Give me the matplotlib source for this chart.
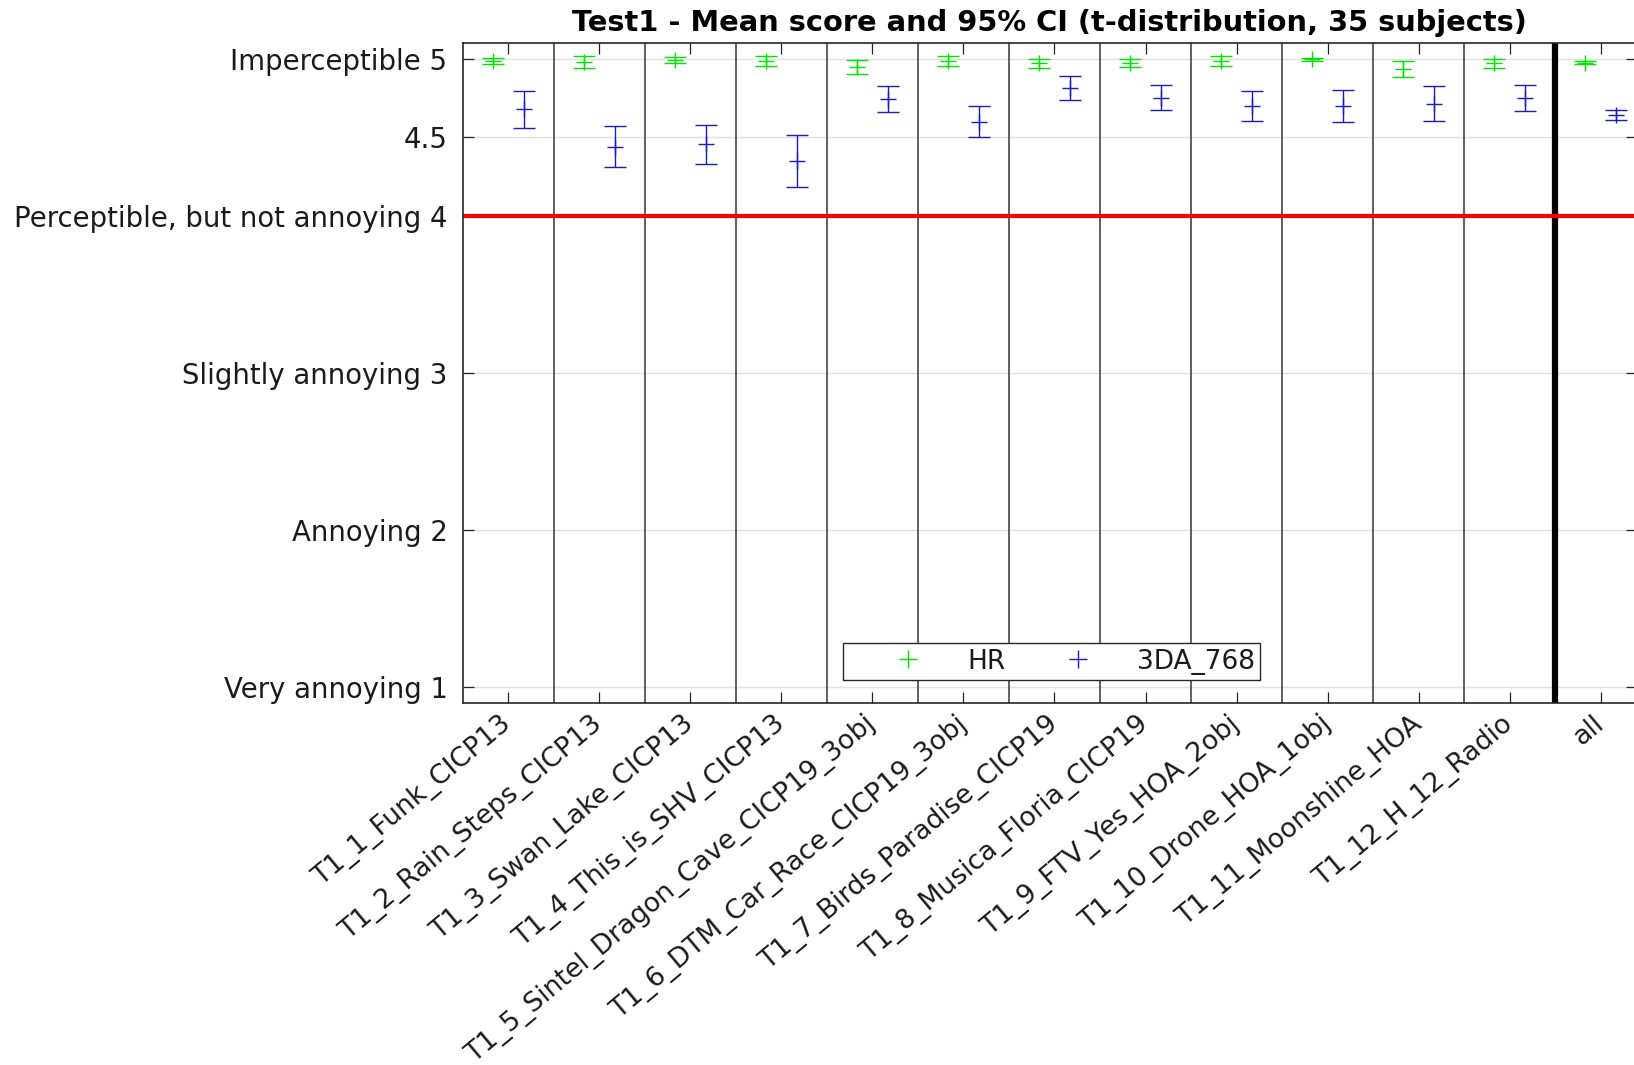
import matplotlib
matplotlib.use("Agg")
import matplotlib.pyplot as plt
import matplotlib.transforms as mtransforms
from matplotlib.lines import Line2D
import numpy as np

categories = ['T1_1_Funk_CICP13', 'T1_2_Rain_Steps_CICP13', 'T1_3_Swan_Lake_CICP13',
              'T1_4_This_is_SHV_CICP13', 'T1_5_Sintel_Dragon_Cave_CICP19_3obj',
              'T1_6_DTM_Car_Race_CICP19_3obj', 'T1_7_Birds_Paradise_CICP19',
              'T1_8_Musica_Floria_CICP19', 'T1_9_FTV_Yes_HOA_2obj', 'T1_10_Drone_HOA_1obj',
              'T1_11_Moonshine_HOA', 'T1_12_H_12_Radio', 'all']
hr_mean = [4.987, 4.980, 4.994, 4.989, 4.949, 4.989, 4.972, 4.974, 4.987, 4.997, 4.936, 4.972, 4.977]
hr_ci = [0.018, 0.037, 0.018, 0.032, 0.045, 0.032, 0.029, 0.026, 0.034, 0.012, 0.048, 0.027, 0.012]
da_mean = [4.680, 4.440, 4.456, 4.350, 4.744, 4.600, 4.813, 4.753, 4.700, 4.700, 4.715, 4.750, 4.643]
da_ci = [0.118, 0.130, 0.123, 0.167, 0.082, 0.100, 0.076, 0.080, 0.093, 0.100, 0.110, 0.081, 0.032]
series_names = ['HR', '3DA_768']
ytick_vals = [1, 2, 3, 4, 4.5, 5]
ytick_labels = ['Very annoying 1', 'Annoying 2', 'Slightly annoying 3',
                'Perceptible, but not annoying 4', '4.5', 'Imperceptible 5']
title = 'Test1 - Mean score and 95% CI (t-distribution, 35 subjects)'

plt.rcParams['font.family'] = ['DejaVu Sans']
FS = 19.3
FSY = 19.8
FSL = 19
axcol = (0.15, 0.15, 0.15)
txtcol = (0.1, 0.1, 0.1)

fig = plt.figure(figsize=(16.34, 10.65), dpi=100)
ax = fig.add_axes([0.2832, 0.3402, 0.7187, 0.6192])

x = np.arange(1, len(categories) + 1)
off = 0.17
green = (0.0, 0.9, 0.0)
blue = (0.1, 0.1, 0.75)

ax.set_axisbelow(True)
ax.yaxis.grid(True, color=(0.88, 0.88, 0.88), linewidth=1.0)

for i in range(1, len(categories) - 1):
    ax.axvline(i + 0.5, color=(0.27, 0.27, 0.27), linewidth=1.2, zorder=1)
ax.axvline(len(categories) - 0.5, color='black', linewidth=4.5, zorder=1)

ax.axhline(4, color='red', linewidth=3.0, zorder=2)

ax.errorbar(x - off, hr_mean, yerr=hr_ci, fmt='+', color=green, ecolor=green,
            markersize=12, markeredgewidth=1.0, elinewidth=1.0, capsize=7.8,
            capthick=1.0, zorder=3)
ax.errorbar(x + off, da_mean, yerr=da_ci, fmt='+', color=blue, ecolor=blue,
            markersize=12, markeredgewidth=1.0, elinewidth=1.0, capsize=7.8,
            capthick=1.0, zorder=3)

ax.set_xlim(0.5, 13.4)
ax.set_ylim(0.9, 5.1)
ax.set_yticks(ytick_vals)
ax.set_yticklabels(ytick_labels, fontsize=FSY, color=txtcol)
ax.set_xticks(x)
ax.set_xticklabels(categories, fontsize=FS, rotation=40, ha='right', va='center',
                   rotation_mode='anchor', color=txtcol)
dx = mtransforms.ScaledTranslation(20 / 100, 0, fig.dpi_scale_trans)
for lab in ax.get_xticklabels():
    lab.set_transform(lab.get_transform() + dx)

ax.tick_params(axis='both', direction='in', length=8, width=0.9, color=axcol,
               top=True, right=True)
ax.tick_params(axis='x', pad=13)
ax.tick_params(axis='y', pad=11)
for s in ax.spines.values():
    s.set_color(axcol)
    s.set_linewidth(1.2)

ax.set_title(title, fontsize=20.8, fontweight='bold', pad=9)

handles = [Line2D([], [], linestyle='none', marker='+', markersize=13,
                  markeredgewidth=1.0, color=green),
           Line2D([], [], linestyle='none', marker='+', markersize=13,
                  markeredgewidth=1.0, color=blue)]
leg = ax.legend(handles, series_names, loc='lower center',
                bbox_to_anchor=(0.5015, 0.0344), ncol=2,
                fontsize=FSL, frameon=True, fancybox=False, shadow=False,
                edgecolor=axcol, framealpha=1.0, borderpad=0.2,
                handlelength=4.5, handletextpad=0.0, columnspacing=0.5,
                borderaxespad=0.0)
leg.get_frame().set_linewidth(1.0)
for t in leg.get_texts():
    t.set_color(txtcol)

fig.savefig('out.png', dpi=100)
